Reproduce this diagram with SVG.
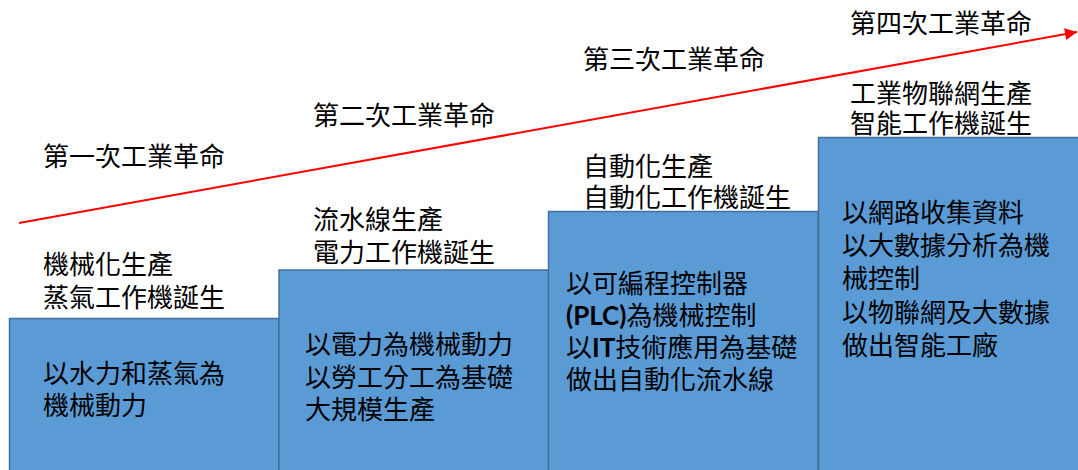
<svg xmlns="http://www.w3.org/2000/svg" width="1078" height="470" viewBox="0 0 1078 470">
<defs>
<style>
.box{fill:#5B9BD5;stroke:#41719C;stroke-width:1.5}
.t{font-family:"Noto Sans CJK TC","Noto Sans CJK SC",sans-serif;font-size:26px;fill:#000}
.b{font-family:Lato,"Noto Sans CJK TC",sans-serif;font-weight:bold}
.arrow{stroke:#FF0000;stroke-width:2;fill:none}
</style>
<marker id="ah" viewBox="0 0 10 10" refX="10" refY="5" markerWidth="7.5" markerHeight="6" markerUnits="strokeWidth" orient="auto">
<path d="M0,0 L10,5 L0,10 z" fill="#FF0000"/>
</marker>
</defs>
<rect width="1078" height="470" fill="#FFFFFF"/>
<g id="connectors">
<line class="arrow" x1="19" y1="223" x2="1077" y2="32" marker-end="url(#ah)"/>
</g>
<g id="stage1">
<rect class="box" x="9.5" y="318.5" width="269.5" height="160"/>
<text class="t" x="43" y="166">第一次工業革命</text>
<text class="t" x="43" y="274">機械化生產</text>
<text class="t" x="43" y="307">蒸氣工作機誕生</text>
<text class="t" x="43" y="383">以水力和蒸氣為</text>
<text class="t" x="43" y="415">機械動力</text>
</g>
<g id="stage2">
<rect class="box" x="279" y="270" width="269.5" height="210"/>
<text class="t" x="313" y="125">第二次工業革命</text>
<text class="t" x="313" y="229">流水線生產</text>
<text class="t" x="313" y="262">電力工作機誕生</text>
<text class="t" x="305" y="354">以電力為機械動力</text>
<text class="t" x="305" y="387">以勞工分工為基礎</text>
<text class="t" x="305" y="419">大規模生產</text>
</g>
<g id="stage3">
<rect class="box" x="548.5" y="211.5" width="269.5" height="270"/>
<text class="t" x="583" y="69">第三次工業革命</text>
<text class="t" x="583" y="176">自動化生產</text>
<text class="t" x="583" y="207">自動化工作機誕生</text>
<text class="t" x="566" y="293">以可編程控制器</text>
<text class="t" x="566" y="325"><tspan class="b">(PLC)</tspan>為機械控制</text>
<text class="t" x="566" y="357"><tspan>以</tspan><tspan class="b">IT</tspan><tspan>技術應用為基礎</tspan></text>
<text class="t" x="566" y="389">做出自動化流水線</text>
</g>
<g id="stage4">
<rect class="box" x="818.5" y="137.5" width="270" height="340"/>
<text class="t" x="850" y="33">第四次工業革命</text>
<text class="t" x="850" y="103">工業物聯網生產</text>
<text class="t" x="850" y="133">智能工作機誕生</text>
<text class="t" x="842" y="222">以網路收集資料</text>
<text class="t" x="842" y="255">以大數據分析為機</text>
<text class="t" x="842" y="288">械控制</text>
<text class="t" x="842" y="322">以物聯網及大數據</text>
<text class="t" x="842" y="355">做出智能工廠</text>
</g>
</svg>
